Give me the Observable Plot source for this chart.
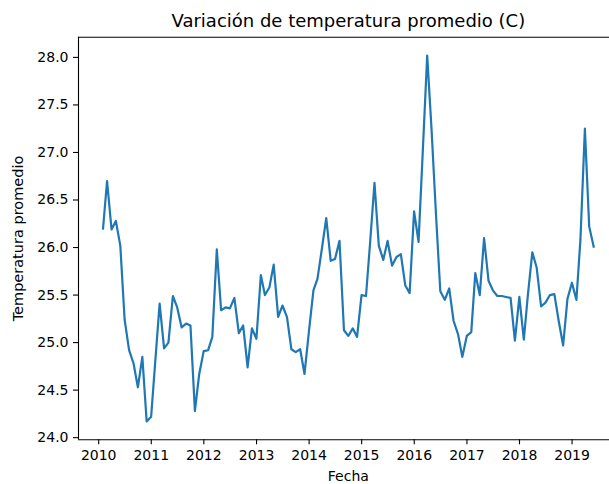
<!DOCTYPE html>
<html>
<head>
<meta charset="utf-8">
<script src="https://cdn.jsdelivr.net/npm/d3@7"></script>
<script src="https://cdn.jsdelivr.net/npm/@observablehq/plot@0.6"></script>
<style>
  html, body { margin: 0; padding: 0; background: #fff; }
  #chart { width: 609px; height: 484px; overflow: hidden; }
</style>
</head>
<body>
<div id="chart"></div>
<script>
// ---- data ----
const title = "Variación de temperatura promedio (C)";
const xLabel = "Fecha";
const yLabel = "Temperatura promedio";
const startYear = 2010;               // first month: January 2010 (month-end dates)
const temps = [
  26.20, 26.70, 26.19, 26.28, 26.02, 25.24, 24.92, 24.78, 24.53, 24.85, 24.17, 24.22,
  24.85, 25.41, 24.94, 25.00, 25.49, 25.37, 25.16, 25.20, 25.18, 24.28, 24.67, 24.91,
  24.92, 25.06, 25.98, 25.34, 25.37, 25.36, 25.47, 25.10, 25.18, 24.74, 25.15, 25.04,
  25.71, 25.50, 25.58, 25.82, 25.27, 25.39, 25.27, 24.93, 24.90, 24.93, 24.67, 25.12,
  25.55, 25.67, 25.99, 26.31, 25.86, 25.88, 26.07, 25.13, 25.07, 25.15, 25.06, 25.50,
  25.49, 26.04, 26.68, 26.02, 25.87, 26.07, 25.81, 25.90, 25.93, 25.60, 25.52, 26.38,
  26.06, 27.00, 28.02, 27.25, 26.35, 25.54, 25.45, 25.57, 25.23, 25.09, 24.85, 25.07,
  25.11, 25.73, 25.50, 26.10, 25.65, 25.55, 25.49, 25.49, 25.48, 25.47, 25.02, 25.48,
  25.03, 25.50, 25.95, 25.79, 25.38, 25.42, 25.50, 25.51, 25.23, 24.97, 25.46, 25.63,
  25.45, 26.08, 27.25, 26.22, 26.01
];
const yearTicks = [2010, 2011, 2012, 2013, 2014, 2015, 2016, 2017, 2018, 2019];
const yTicks = [24.0, 24.5, 25.0, 25.5, 26.0, 26.5, 27.0, 27.5, 28.0];

// ---- build table ----
const rows = temps.map((v, i) => ({
  fecha: new Date(Date.UTC(startYear, i + 1, 0)), // last day of month i
  temp: v
}));

// matplotlib-like 5% margins
const xFirst = rows[0].fecha, xLast = rows[rows.length - 1].fecha;
const xSpan = xLast - xFirst;
const xStart = new Date(+xFirst - 0.05 * xSpan);
const xEndFull = new Date(+xLast + 0.05 * xSpan);
const W = 609, H = 484;
const mL = 78, fullRight = 617.7;         // axes extends beyond the visible image
const xEnd = new Date(+xStart + (xEndFull - xStart) * (W - mL) / (fullRight - mL));
const yMin = d3.min(temps), yMax = d3.max(temps);
const ySpan = yMax - yMin;
const yDomain = [yMin - 0.05 * ySpan, yMax + 0.05 * ySpan];

const mT = 36.7, mB = H - 439.3;
const font = "DejaVu Sans, sans-serif";

const chart = Plot.plot({
  width: W,
  height: H,
  marginLeft: mL,
  marginRight: 0,
  marginTop: mT,
  marginBottom: mB,
  style: { fontFamily: font, fontSize: "14px", color: "black", background: "white" },
  x: { type: "utc", domain: [xStart, xEnd] },
  y: { domain: yDomain },
  marks: [
    Plot.lineY(rows, { x: "fecha", y: "temp", stroke: "#1f77b4", strokeWidth: 2.2, strokeLinejoin: "round", strokeLinecap: "square" }),
    // spines (left, bottom, top)
    Plot.ruleX([xStart], { stroke: "black", strokeWidth: 1.1 }),
    Plot.ruleY([yDomain[0]], { stroke: "black", strokeWidth: 1.1 }),
    Plot.ruleY([yDomain[1]], { stroke: "black", strokeWidth: 1.1 }),
    Plot.axisX(yearTicks.map(y => new Date(Date.UTC(y, 0, 1))), {
      tickSize: 5, tickPadding: 5, tickFormat: "%Y", label: null, fontSize: 14, strokeWidth: 1.1
    }),
    Plot.axisY(yTicks, {
      tickSize: 5, tickPadding: 5, tickFormat: d3.format(".1f"), label: null, fontSize: 14, strokeWidth: 1.1
    }),
    Plot.text([title], { frameAnchor: "top", text: d => d, dx: (fullRight - W) / 2, dy: -15.5, lineAnchor: "middle", fontSize: 18, fill: "black" }),
    Plot.text([xLabel], { frameAnchor: "bottom", text: d => d, dx: (fullRight - W) / 2, dy: 37, lineAnchor: "middle", fontSize: 14, fill: "black" }),
    Plot.text([yLabel], { frameAnchor: "left", text: d => d, dx: -60, rotate: -90, textAnchor: "middle", lineAnchor: "middle", fontSize: 14.5, fill: "black" })
  ]
});
document.getElementById("chart").appendChild(chart);
</script>
</body>
</html>
